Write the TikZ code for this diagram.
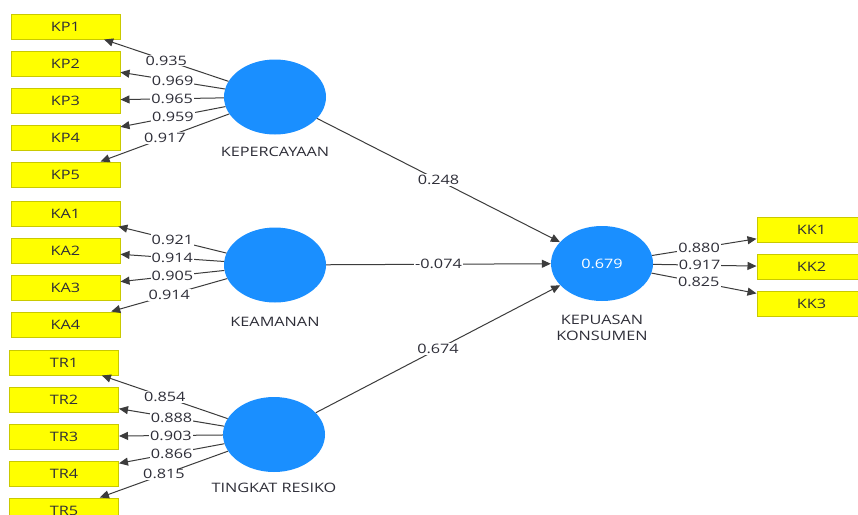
\documentclass[tikz,border=0pt]{standalone}
\usepackage{fontspec}
\setmainfont{Open Sans}[FakeStretch=1.25]
\usetikzlibrary{shapes,arrows.meta,positioning}
\definecolor{indfill}{HTML}{FFFF00}
\definecolor{indborder}{HTML}{C9C900}
\definecolor{latfill}{HTML}{1A8FFF}
\definecolor{linecol}{HTML}{3C3C3C}
\definecolor{txtcol}{HTML}{2E2E38}
\tikzset{
	ind/.style={draw=indborder, fill=indfill, line width=1pt,
		minimum width=109pt, minimum height=25pt, inner sep=0pt,
		text=txtcol, font=\fontsize{13}{15}\selectfont},
	lat/.style={ellipse, fill=latfill, minimum width=102pt,
		minimum height=75pt, inner sep=0pt,
		text=white, font=\fontsize{13}{15}\selectfont},
	latname/.style={text=txtcol, align=center,
		font=\fontsize{13}{16}\selectfont},
	load/.style={draw=linecol, line width=1pt,
		-{Triangle[length=9pt,width=8pt]}},
	coef/.style={fill=white, inner sep=1pt, text=txtcol,
		font=\fontsize{13}{15}\selectfont},
}
\begin{document}
\begin{tikzpicture}[x=1pt,y=-1pt]
	\useasboundingbox[fill=white] (0,0) rectangle (858,514);
	% latent variables
	\node[lat] (kep) at (275,97) {};
	\node[lat] (kea) at (275,265) {};
	\node[lat] (tr) at (274,434.5) {};
	\node[lat] (kk) at (602,263.5) {0.679};
	\node[latname] (kep-name) at (275,152) {KEPERCAYAAN};
	\node[latname] (kea-name) at (275,322) {KEAMANAN};
	\node[latname] (tr-name) at (274,488) {TINGKAT RESIKO};
	\node[latname] (kk-name) at (602,328) {KEPUASAN\\KONSUMEN};
	% indicators
	\node[ind] (kp1) at (65.5,26.5) {KP1};
	\node[ind, below=11pt of kp1] (kp2) {KP2};
	\node[ind, below=11pt of kp2] (kp3) {KP3};
	\node[ind, below=11pt of kp3] (kp4) {KP4};
	\node[ind, below=11pt of kp4] (kp5) {KP5};
	\node[ind] (ka1) at (65.5,213.5) {KA1};
	\node[ind, below=11pt of ka1] (ka2) {KA2};
	\node[ind, below=11pt of ka2] (ka3) {KA3};
	\node[ind, below=11pt of ka3] (ka4) {KA4};
	\node[ind] (tr1) at (64,362.5) {TR1};
	\node[ind, below=11pt of tr1] (tr2) {TR2};
	\node[ind, below=11pt of tr2] (tr3) {TR3};
	\node[ind, below=11pt of tr3] (tr4) {TR4};
	\node[ind, below=11pt of tr4] (tr5) {TR5};
	\node[ind] (kk1) at (811.5,230) {KK1};
	\node[ind, below=11pt of kk1] (kk2) {KK2};
	\node[ind, below=11pt of kk2] (kk3) {KK3};
	% outer loadings
	\draw[load] (kep) -- node[coef] {0.935} (kp1);
	\draw[load] (kep) -- node[coef] {0.969} (kp2);
	\draw[load] (kep) -- node[coef] {0.965} (kp3);
	\draw[load] (kep) -- node[coef] {0.959} (kp4);
	\draw[load] (kep) -- node[coef] {0.917} (kp5);
	\draw[load] (kea) -- node[coef] {0.921} (ka1);
	\draw[load] (kea) -- node[coef] {0.914} (ka2);
	\draw[load] (kea) -- node[coef] {0.905} (ka3);
	\draw[load] (kea) -- node[coef] {0.914} (ka4);
	\draw[load] (tr) -- node[coef] {0.854} (tr1);
	\draw[load] (tr) -- node[coef] {0.888} (tr2);
	\draw[load] (tr) -- node[coef] {0.903} (tr3);
	\draw[load] (tr) -- node[coef] {0.866} (tr4);
	\draw[load] (tr) -- node[coef] {0.815} (tr5);
	\draw[load] (kk) -- node[coef, pos=0.45] {0.880} (kk1);
	\draw[load] (kk) -- node[coef, pos=0.45] {0.917} (kk2);
	\draw[load] (kk) -- node[coef, pos=0.45] {0.825} (kk3);
	% path coefficients
	\draw[load] (kep) -- node[coef] {0.248} (kk);
	\draw[load] (kea) -- node[coef] {-0.074} (kk);
	\draw[load] (tr) -- node[coef] {0.674} (kk);
\end{tikzpicture}
\end{document}
